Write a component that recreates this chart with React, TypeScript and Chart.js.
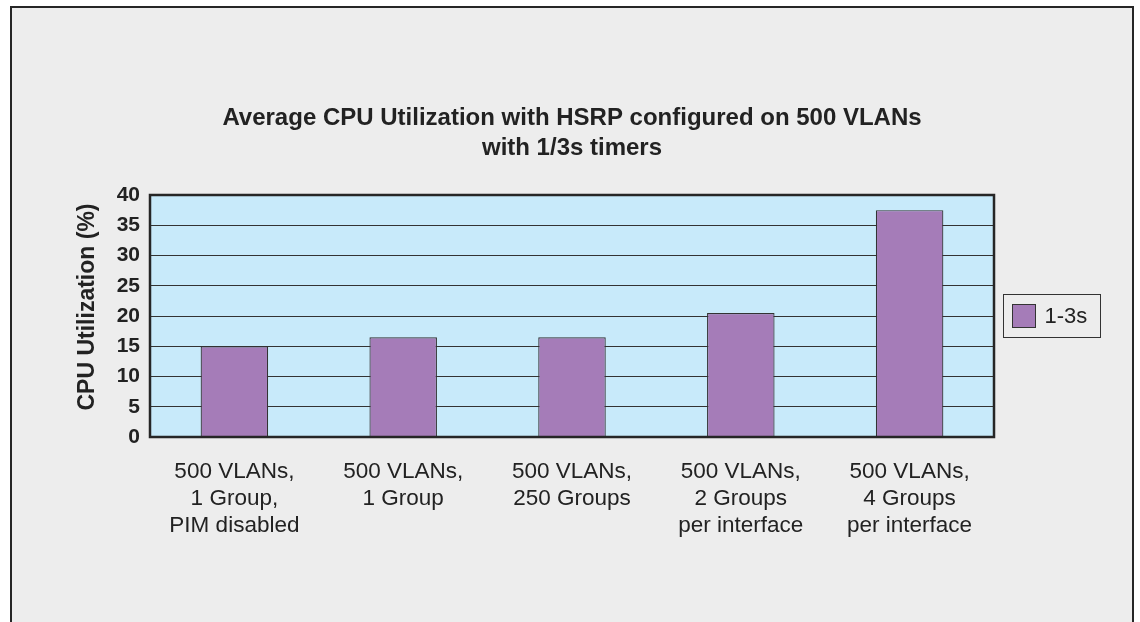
import React, { useEffect, useRef } from "react";
import { Chart, registerables } from "chart.js";

Chart.register(...registerables);

const categories: string[][] = [
  ["500 VLANs,", "1 Group,", "PIM disabled"],
  ["500 VLANs,", "1 Group"],
  ["500 VLANs,", "250 Groups"],
  ["500 VLANs,", "2 Groups", "per interface"],
  ["500 VLANs,", "4 Groups", "per interface"],
];
const seriesLabel = "1-3s";
const seriesValues: number[] = [15, 16.5, 16.5, 20.5, 37.5];
const yTicks: number[] = [0, 5, 10, 15, 20, 25, 30, 35, 40];
const titleLines: string[] = [
  "Average CPU Utilization with HSRP configured on 500 VLANs",
  "with 1/3s timers",
];
const yAxisTitle = "CPU Utilization (%)";

const BAR = "#a57cb8";
const PLOT_BG = "#c8eafa";
const PAGE_BG = "#ededed";
const DARK = "#262626";
const FONT = "'Liberation Sans', Arial, Helvetica, sans-serif";

const framePlugin = {
  id: "framePlugin",
  beforeDraw(chart: any) {
    const { ctx, width, height, chartArea } = chart;
    ctx.save();
    ctx.fillStyle = "#ffffff";
    ctx.fillRect(0, 0, width, height);
    ctx.fillStyle = PAGE_BG;
    ctx.fillRect(11, 7, 1122, height + 20);
    ctx.strokeStyle = DARK;
    ctx.lineWidth = 2;
    ctx.strokeRect(11, 7, 1122, height + 20);
    ctx.fillStyle = PLOT_BG;
    ctx.fillRect(chartArea.left, chartArea.top, chartArea.right - chartArea.left, chartArea.bottom - chartArea.top);
    ctx.restore();
  },
  afterDatasetsDraw(chart: any) {
    const { ctx, chartArea } = chart;
    ctx.save();
    ctx.strokeStyle = DARK;
    ctx.lineWidth = 2.5;
    ctx.strokeRect(chartArea.left, chartArea.top, chartArea.right - chartArea.left, chartArea.bottom - chartArea.top);

    // title, centred over the plot area
    const cx = (chartArea.left + chartArea.right) / 2;
    ctx.fillStyle = "#222222";
    ctx.font = `bold 24px ${FONT}`;
    ctx.textAlign = "center";
    ctx.textBaseline = "alphabetic";
    titleLines.forEach((line, i) => {
      ctx.fillText(line, cx, chartArea.top - 70 + i * 30);
    });

    // y axis title
    const cy = (chartArea.top + chartArea.bottom) / 2;
    ctx.save();
    ctx.translate(chartArea.left - 62, cy - 9);
    ctx.rotate(-Math.PI / 2);
    ctx.font = `bold 23px ${FONT}`;
    ctx.textAlign = "center";
    ctx.textBaseline = "middle";
    ctx.fillText(yAxisTitle, 0, 0);
    ctx.restore();

    // legend
    const ds = chart.data.datasets[0];
    const lx = chartArea.right + 9.5;
    const lw = 97;
    const lh = 43;
    const ly = cy - lh / 2;
    ctx.lineWidth = 1;
    ctx.strokeStyle = "#333333";
    ctx.strokeRect(lx, ly, lw, lh);
    ctx.fillStyle = ds.backgroundColor;
    ctx.fillRect(lx + 9, cy - 11.5, 23, 23);
    ctx.strokeRect(lx + 9, cy - 11.5, 23, 23);
    ctx.fillStyle = "#222222";
    ctx.font = `22px ${FONT}`;
    ctx.textBaseline = "middle";
    ctx.textAlign = "left";
    ctx.fillText(ds.label, lx + 41, cy + 1);
    ctx.restore();
  },
};

export default function App() {
  const ref = useRef<HTMLCanvasElement | null>(null);
  useEffect(() => {
    if (!ref.current) return;
    const chart = new Chart(ref.current, {
      type: "bar",
      data: {
        labels: categories,
        datasets: [
          {
            label: seriesLabel,
            data: seriesValues,
            backgroundColor: BAR,
            borderColor: "#333333",
            borderWidth: 1.2,
            barPercentage: 0.4,
            categoryPercentage: 1,
          },
        ],
      },
      options: {
        responsive: false,
        animation: false,
        devicePixelRatio: 1,
        layout: { padding: { left: 0, right: 146, top: 195, bottom: 0 } },
        plugins: {
          legend: { display: false },
          tooltip: { enabled: false },
          title: { display: false },
        },
        scales: {
          x: {
            grid: { display: false, drawTicks: false },
            border: { display: false },
            ticks: {
              color: "#222222",
              font: { family: FONT, size: 22.5, lineHeight: 27 / 22.5 },
              padding: 21,
              maxRotation: 0,
              autoSkip: false,
            },
            afterFit(scale: any) {
              scale.height = 185;
            },
          },
          y: {
            min: 0,
            max: 40,
            afterBuildTicks(scale: any) {
              scale.ticks = yTicks.map((v) => ({ value: v }));
            },
            grid: { color: "#333333", lineWidth: 1, drawTicks: false },
            border: { display: false },
            ticks: {
              color: "#222222",
              font: { family: FONT, size: 21, weight: "bold" },
              padding: 10,
            },
            title: { display: false },
            afterFit(scale: any) {
              scale.width = 150;
            },
          },
        },
      },
      plugins: [framePlugin],
    });
    return () => chart.destroy();
  }, []);
  return (
    <div style={{ position: "absolute", left: 0, top: 0, width: 1140, height: 622 }}>
      <canvas ref={ref} width={1140} height={622} style={{ display: "block" }} />
    </div>
  );
}
